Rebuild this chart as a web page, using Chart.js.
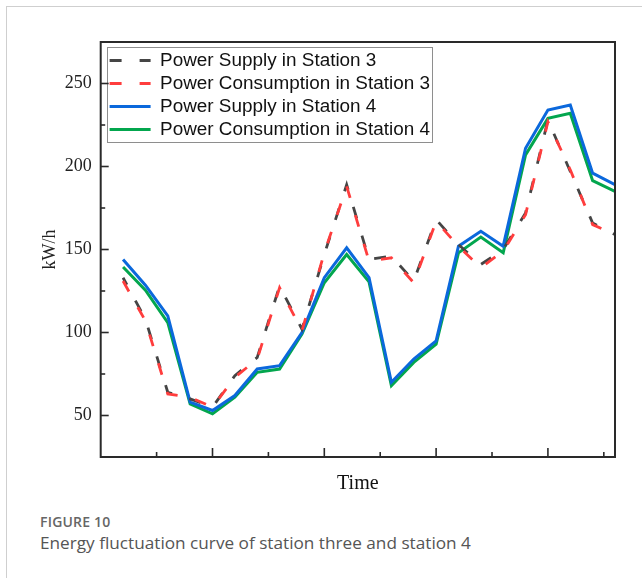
<!DOCTYPE html>
<html><head><meta charset="utf-8">
<script src="https://cdn.jsdelivr.net/npm/chart.js@4.4.1/dist/chart.umd.min.js"></script>
<style>
html,body{margin:0;padding:0;background:#fff;width:642px;height:578px;overflow:hidden;}
#card{position:absolute;left:6px;top:6px;width:700px;height:700px;border-left:1px solid #cfcfcf;border-top:1px solid #cfcfcf;}
#wrap{position:absolute;left:0;top:0;width:642px;height:500px;}
#cap1{position:absolute;left:40px;top:512px;font-family:'Open Sans';font-weight:600;font-size:14px;color:#666;letter-spacing:0.2px;}
#cap2{position:absolute;left:40px;top:531px;font-family:'Open Sans';font-size:17.2px;color:#555;}
</style></head>
<body>
<div id="card"></div>
<div id="wrap"><canvas id="c" width="642" height="500"></canvas></div>
<div id="cap1">FIGURE 10</div>
<div id="cap2">Energy fluctuation curve of station three and station 4</div>
<script>
const timeIndex = [1,2,3,4,5,6,7,8,9,10,11,12,13,14,15,16,17,18,19,20,21,22,23];
const supply3 = [133,108,64,60,55,74,85,128,102,147,189,144,146,131,168,153,141,150,172,228,197,166,159];
const consumption3 = [131,107,63,61,55,73,84,127,101,148,188,143,145,130,167,152,139,149,171,227,198,165,159];
const supply4 = [144,128.5,110,58,53,62,78,80,100,133,151,133,70,84,95,152,161,152,211,234,237,196,189];
const consumption4 = [139.5,125.5,106,57,51,61,76,78,99,130,147,130.5,68,82,93,148,157.5,148,207,229,232,191.5,185];
const seriesLabels = ['Power Supply in Station 3','Power Consumption in Station 3','Power Supply in Station 4','Power Consumption in Station 4'];
const yTickValues = [50,100,150,200,250];
const yMinorValues = [75,125,175,225];
const xMajorValues = [5,10,15,20];
const xMinorValues = [2.5,7.5,12.5,17.5,22.5];

const toPts = arr => timeIndex.map((t,i)=>({x:t,y:arr[i]}));

const framePlugin = {
  id:'frame',
  afterLayout(chart){
    const lg = chart.legend, a = chart.chartArea;
    lg.left = a.left + 4.8;
    lg.top = a.top + 5.0;
  },
  afterDraw(chart){
    const {ctx, chartArea:a, scales:{x,y}} = chart;
    ctx.save();
    const hb = chart.legend.legendHitBoxes;
    if (hb && hb.length){
      let l = Infinity, r = -Infinity, t = Infinity, b = -Infinity;
      hb.forEach(h=>{l=Math.min(l,h.left);r=Math.max(r,h.left+h.width);t=Math.min(t,h.top);b=Math.max(b,h.top+h.height);});
      ctx.strokeStyle='#8e8e8e'; ctx.lineWidth=1; ctx.setLineDash([]);
      const L=Math.round(l-3), T=Math.round(t-4.5), R=Math.round(r+2), B=Math.round(b+2.5);
      ctx.strokeRect(L+0.5, T+0.5, R-L, B-T);
    }
    ctx.strokeStyle='#2a2a2a'; ctx.setLineDash([]); ctx.lineWidth=1.6;
    const line=(x1,y1,x2,y2)=>{ctx.beginPath();ctx.moveTo(x1,y1);ctx.lineTo(x2,y2);ctx.stroke();};
    yTickValues.forEach(v=>{const p=y.getPixelForValue(v); line(a.left,p,a.left+8,p);});
    yMinorValues.forEach(v=>{const p=y.getPixelForValue(v); line(a.left,p,a.left+4.5,p);});
    xMajorValues.forEach(v=>{const p=x.getPixelForValue(v); line(p,a.bottom,p,a.bottom-9);});
    xMinorValues.forEach(v=>{const p=x.getPixelForValue(v); line(p,a.bottom,p,a.bottom-5);});
    ctx.lineWidth=2;
    ctx.strokeRect(a.left,a.top,a.right-a.left,a.bottom-a.top);
    ctx.restore();
  }
};

const serif = 'Liberation Serif';
new Chart(document.getElementById('c'), {
  type:'line',
  data:{datasets:[
    {label:seriesLabels[0], data:toPts(supply3), borderColor:'#454545', borderWidth:2.8, borderDash:[12,18], borderDashOffset:4, pointRadius:0, tension:0, fill:false, order:1},
    {label:seriesLabels[1], data:toPts(consumption3), borderColor:'#ff3d3d', borderWidth:2.8, borderDash:[12,18], borderDashOffset:0, pointRadius:0, tension:0, fill:false, order:0},
    {label:seriesLabels[2], data:toPts(supply4), borderColor:'#0b68dc', borderWidth:3, pointRadius:0, tension:0, fill:false, order:2},
    {label:seriesLabels[3], data:toPts(consumption4), borderColor:'#03a64e', borderWidth:3, pointRadius:0, tension:0, fill:false, order:3}
  ]},
  options:{
    responsive:false, animation:false, devicePixelRatio:1, events:[],
    layout:{padding:{left:0,top:42,right:27,bottom:0}},
    plugins:{
      tooltip:{enabled:false},
      legend:{
        position:'chartArea', align:'start',
        labels:{
          font:{family:'Liberation Sans', size:18.9}, color:'#111',
          usePointStyle:true, pointStyle:'line', pointStyleWidth:41, padding:4.1,
          generateLabels(chart){
            const items = Chart.defaults.plugins.legend.labels.generateLabels(chart);
            items.sort((p,q)=>p.datasetIndex-q.datasetIndex);
            items.forEach(it=>{
              const ds = chart.data.datasets[it.datasetIndex];
              it.lineDash = (ds.borderDash && ds.borderDash.length) ? ds.borderDash : [];
              it.lineDashOffset = 0;
              it.strokeStyle = ds.borderColor;
              it.lineWidth = 3;
            });
            return items;
          }
        }
      }
    },
    scales:{
      x:{type:'linear', position:'bottom', min:0, max:23,
        ticks:{display:false}, grid:{display:false, drawTicks:false}, border:{display:false},
        title:{display:true, text:'Time', font:{family:serif, size:20}, color:'#111', padding:{top:0,bottom:4}},
        afterFit(s){ s.height = 43; }
      },
      y:{type:'linear', position:'left', min:25, max:275,
        afterBuildTicks(s){ s.ticks = yTickValues.map(v=>({value:v})); },
        ticks:{font:{family:serif, size:18}, color:'#222', padding:9},
        grid:{display:false, drawTicks:false}, border:{display:false},
        title:{display:true, text:'kW/h', font:{family:serif, size:18}, color:'#222', padding:{top:39,bottom:0}},
        afterFit(s){ s.width = 100.7; }
      }
    }
  },
  plugins:[framePlugin]
});
</script>
</body></html>
